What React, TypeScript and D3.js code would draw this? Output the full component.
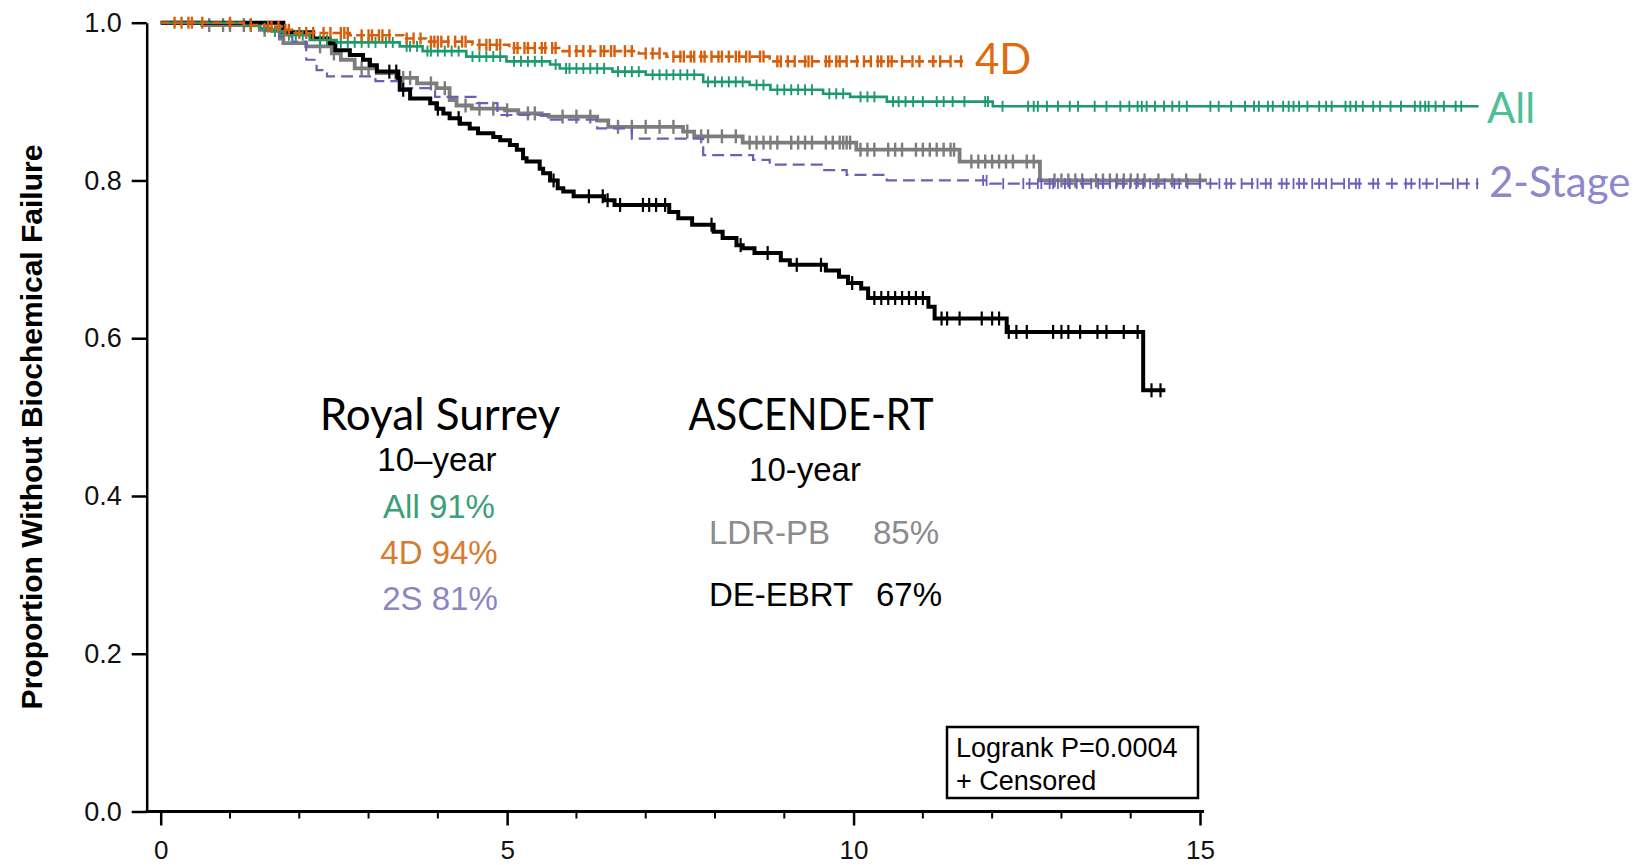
import * as d3 from "d3"
import { useEffect, useRef } from "react"

const WIDTH = 1642
const HEIGHT = 865

// Kaplan-Meier steps: [years, proportion without failure]
const deEbrtSteps: [number, number][] = [
  [0, 1.0], [1.77, 0.988], [2.2, 0.98], [2.44, 0.974], [2.52, 0.965], [2.73, 0.959],
  [2.92, 0.953], [3.02, 0.946], [3.12, 0.938], [3.43, 0.93], [3.45, 0.915], [3.6, 0.904],
  [3.89, 0.898], [3.98, 0.891], [4.08, 0.885], [4.17, 0.879], [4.32, 0.872], [4.46, 0.866],
  [4.58, 0.86], [4.8, 0.855], [4.9, 0.851], [5.04, 0.845], [5.14, 0.839], [5.23, 0.828],
  [5.28, 0.824], [5.47, 0.815], [5.52, 0.809], [5.62, 0.8], [5.73, 0.79], [5.81, 0.786],
  [5.96, 0.78], [6.4, 0.775], [6.55, 0.769], [7.34, 0.76], [7.47, 0.752], [7.67, 0.744],
  [7.98, 0.735], [8.11, 0.727], [8.31, 0.718], [8.4, 0.714], [8.57, 0.708], [8.95, 0.699],
  [9.08, 0.693], [9.6, 0.686], [9.79, 0.678], [9.92, 0.67], [10.11, 0.663], [10.21, 0.651],
  [11.08, 0.64], [11.17, 0.625], [12.21, 0.608], [14.18, 0.534],
]
const deEbrtEnd = 14.5
const deEbrtCensored = [
  3.3, 3.4, 3.5, 4.0, 4.3, 5.67, 6.18, 6.38, 6.45, 6.63, 6.96, 7.05, 7.15, 7.28, 7.95,
  8.37, 8.76, 9.18, 9.53, 9.98, 10.3, 10.4, 10.5, 10.6, 10.7, 10.8, 10.9, 11.0, 11.27,
  11.35, 11.53, 11.85, 12.0, 12.1, 12.24, 12.35, 12.5, 12.88, 13.0, 13.1, 13.27, 13.52,
  13.65, 13.9, 14.1, 14.3, 14.43,
]

const ldrSteps: [number, number][] = [
  [0, 1.0], [0.6, 0.997], [1.43, 0.991], [1.72, 0.98], [1.77, 0.974], [2.1, 0.97],
  [2.47, 0.961], [2.6, 0.953], [2.8, 0.942], [3.12, 0.936], [3.4, 0.93], [3.7, 0.923],
  [3.98, 0.917], [4.17, 0.902], [4.27, 0.895], [4.49, 0.891], [4.97, 0.889], [5.16, 0.885],
  [5.5, 0.883], [5.6, 0.881], [6.3, 0.876], [6.46, 0.868], [7.54, 0.862], [7.7, 0.856],
  [8.4, 0.848], [10.04, 0.839], [11.53, 0.824], [12.69, 0.8],
]
const ldrEnd = 15.1
const ldrCensored = [
  0.7, 0.9, 1.0, 1.2, 1.3, 1.5, 2.3, 2.5, 2.9, 3.0, 3.5, 3.6, 3.9, 4.1, 4.4, 4.6, 4.8,
  5.0, 5.3, 5.4, 5.8, 6.0, 6.2, 6.6, 6.8, 7.0, 7.2, 7.4, 7.6, 7.8, 7.9, 8.1, 8.3, 8.5,
  8.6, 8.7, 8.8, 8.9, 9.1, 9.2, 9.3, 9.4, 9.6, 9.7, 9.8, 9.85, 9.9, 9.95, 10.1, 10.2,
  10.3, 10.5, 10.6, 10.7, 10.9, 11.0, 11.1, 11.2, 11.3, 11.4, 11.45, 11.7, 11.8, 11.9,
  12.0, 12.1, 12.2, 12.3, 12.5, 12.6, 12.9, 13.0, 13.1, 13.2, 13.3, 13.5, 13.6, 13.7,
  13.8, 13.9, 14.0, 14.1, 14.2, 14.4, 14.6, 14.8, 15.0,
]

const allSteps: [number, number][] = [
  [0, 1.0], [1.2, 0.996], [1.43, 0.993], [1.6, 0.989], [1.77, 0.984], [2.15, 0.978],
  [2.54, 0.975], [3.45, 0.97], [3.78, 0.964], [4.41, 0.957], [4.99, 0.951], [5.62, 0.947],
  [5.76, 0.942], [6.52, 0.938], [7.0, 0.934], [7.83, 0.925], [8.5, 0.921], [8.8, 0.915],
  [9.56, 0.91], [9.95, 0.906], [10.48, 0.9], [12.01, 0.894],
]
const allEnd = 19.02
const allCensored = [
  1.5, 1.65, 1.85, 1.95, 2.05, 2.3, 2.4, 2.6, 2.7, 2.8, 2.9, 3.0, 3.1, 3.25, 3.35, 3.55,
  3.6, 3.7, 3.85, 3.9, 4.0, 4.1, 4.2, 4.3, 4.5, 4.6, 4.7, 4.8, 4.9, 5.1, 5.2, 5.3, 5.4,
  5.5, 5.7, 5.85, 5.9, 6.0, 6.1, 6.2, 6.3, 6.4, 6.6, 6.7, 6.8, 6.9, 7.1, 7.2, 7.3, 7.4,
  7.5, 7.6, 7.7, 7.9, 8.0, 8.1, 8.2, 8.3, 8.4, 8.6, 8.7, 8.9, 9.0, 9.1, 9.2, 9.3, 9.4,
  9.65, 9.75, 9.85, 10.1, 10.2, 10.3, 10.57, 10.65, 10.75, 10.86, 11.0, 11.2, 11.3,
  11.43, 11.6, 11.9, 11.94, 12.15, 12.52, 12.6, 12.66, 12.79, 12.95, 13.12, 13.24, 13.48,
  13.65, 13.85, 13.98, 14.1, 14.16, 14.23, 14.35, 14.48, 14.6, 14.7, 14.81, 15.15, 15.27,
  15.45, 15.65, 15.78, 15.85, 15.98, 16.05, 16.2, 16.28, 16.35, 16.43, 16.55, 16.72,
  16.82, 16.9, 17.1, 17.17, 17.25, 17.35, 17.5, 17.6, 17.75, 17.9, 18.1, 18.18, 18.25,
  18.3, 18.4, 18.52, 18.69, 18.77,
]

const twoStageSteps: [number, number][] = [
  [0, 1.0], [1.5, 0.99], [1.72, 0.982], [1.9, 0.976], [2.1, 0.953], [2.25, 0.94],
  [2.4, 0.932], [3.1, 0.926], [3.5, 0.917], [3.96, 0.906], [4.56, 0.898], [4.86, 0.883],
  [5.63, 0.877], [6.3, 0.866], [6.8, 0.853], [7.83, 0.832], [8.55, 0.826], [8.79, 0.82],
  [9.56, 0.813], [9.9, 0.807], [10.48, 0.8], [11.97, 0.796],
]
const twoStageEnd = 19.02
const twoStageCensored = [
  11.87, 11.92, 12.16, 12.45, 12.54, 12.66, 12.71, 12.83, 12.88, 12.95, 13.05, 13.12,
  13.22, 13.31, 13.43, 13.53, 13.6, 13.7, 13.79, 13.89, 13.99, 14.08, 14.18, 14.28,
  14.37, 14.49, 14.63, 14.7, 14.82, 15.0, 15.15, 15.28, 15.38, 15.45, 15.6, 15.75, 15.83,
  15.95, 16.02, 16.18, 16.25, 16.35, 16.43, 16.5, 16.62, 16.72, 16.82, 16.9, 17.08,
  17.15, 17.25, 17.3, 17.5, 17.57, 17.77, 17.97, 18.05, 18.17, 18.27, 18.42, 18.65,
  18.72, 18.85, 19.0,
]

const fourDSteps: [number, number][] = [
  [0, 1.0], [1.2, 0.997], [1.5, 0.995], [1.75, 0.991], [1.9, 0.987], [2.73, 0.984],
  [3.5, 0.98], [3.83, 0.976], [4.5, 0.972], [5.03, 0.968], [5.8, 0.964], [6.9, 0.961],
  [7.3, 0.957], [8.79, 0.951],
]
const fourDEnd = 11.58
const fourDCensored = [
  0.2, 0.3, 0.4, 0.45, 0.6, 1.0, 1.3, 1.55, 1.6, 1.7, 1.8, 1.85, 2.0, 2.1, 2.2, 2.35,
  2.45, 2.6, 2.65, 2.7, 2.9, 3.0, 3.05, 3.15, 3.2, 3.3, 3.55, 3.65, 3.75, 3.9, 3.95, 4.0,
  4.05, 4.15, 4.25, 4.35, 4.4, 4.6, 4.7, 4.75, 4.85, 4.9, 5.1, 5.15, 5.25, 5.3, 5.4, 5.5,
  5.55, 5.65, 5.7, 5.9, 6.0, 6.1, 6.2, 6.35, 6.4, 6.5, 6.55, 6.7, 6.8, 7.0, 7.1, 7.2,
  7.4, 7.5, 7.55, 7.65, 7.7, 7.8, 7.85, 7.95, 8.05, 8.1, 8.2, 8.3, 8.35, 8.45, 8.5, 8.65,
  8.7, 8.9, 8.95, 9.05, 9.15, 9.3, 9.35, 9.4, 9.6, 9.65, 9.75, 9.8, 9.9, 10.05, 10.15,
  10.25, 10.35, 10.4, 10.5, 10.55, 10.7, 10.85, 10.95, 11.15, 11.25, 11.4, 11.55,
]

const yTicks = [0, 0.2, 0.4, 0.6, 0.8, 1.0]
const xTicks = [0, 5, 10, 15]
const xMinorTicks = [1, 2, 3, 4, 6, 7, 8, 9, 11, 12, 13, 14]

const ARIAL = "'Liberation Sans', Arial, Helvetica, sans-serif"
const CALIBRI = "Lato, 'Open Sans', sans-serif"

type Series = {
  steps: [number, number][]
  end: number
  censored: number[]
  color: string
  width: number
  dash: string | null
  markH: number
  markW: number
}

const series: Series[] = [
  { steps: ldrSteps, end: ldrEnd, censored: ldrCensored, color: "#7d7d7d", width: 3.8, dash: null, markH: 14, markW: 2.4 },
  { steps: twoStageSteps, end: twoStageEnd, censored: twoStageCensored, color: "#6a60b8", width: 2.2, dash: "12,6", markH: 11, markW: 1.8 },
  { steps: deEbrtSteps, end: deEbrtEnd, censored: deEbrtCensored, color: "#000000", width: 4, dash: null, markH: 14, markW: 2.2 },
  { steps: allSteps, end: allEnd, censored: allCensored, color: "#1d9a6c", width: 2.6, dash: null, markH: 11, markW: 1.9 },
  { steps: fourDSteps, end: fourDEnd, censored: fourDCensored, color: "#d65f0c", width: 2.6, dash: "9,4", markH: 12, markW: 2.4 },
]

const App = () => {
  const svgRef = useRef<SVGSVGElement>(null)

  useEffect(() => {
    if (!svgRef.current) return
    const svg = d3.select(svgRef.current)
    svg.selectAll("*").remove()

    const x = d3.scaleLinear().domain([0, 15]).range([160.7, 1200])
    const y = d3.scaleLinear().domain([0, 1]).range([811.5, 22.7])

    // curves
    series.forEach((s) => {
      const pts: [number, number][] = [...s.steps, [s.end, s.steps[s.steps.length - 1][1]]]
      const line = d3
        .line<[number, number]>()
        .x((d) => x(d[0]))
        .y((d) => y(d[1]))
        .curve(d3.curveStepAfter)
      svg
        .append("path")
        .attr("d", line(pts))
        .attr("fill", "none")
        .attr("stroke", s.color)
        .attr("stroke-width", s.width)
        .attr("stroke-dasharray", s.dash)

      const bis = d3.bisector((d: [number, number]) => d[0]).right
      const valueAt = (t: number) => s.steps[Math.max(0, bis(s.steps, t) - 1)][1]
      svg
        .append("g")
        .selectAll("line")
        .data(s.censored)
        .join("line")
        .attr("x1", (d) => x(d))
        .attr("x2", (d) => x(d))
        .attr("y1", (d) => y(valueAt(d)) - s.markH / 2)
        .attr("y2", (d) => y(valueAt(d)) + s.markH / 2)
        .attr("stroke", s.color)
        .attr("stroke-width", s.markW)
    })

    // y axis
    const yAxis = svg
      .append("g")
      .attr("transform", "translate(146.7,0)")
      .call(
        d3
          .axisLeft(y)
          .tickValues(yTicks)
          .tickSize(15)
          .tickSizeOuter(0)
          .tickPadding(10)
          .tickFormat(d3.format(".1f")),
      )
    yAxis.select(".domain").attr("stroke-width", 2.5)
    yAxis.selectAll(".tick line").attr("stroke-width", 2.5)
    yAxis.selectAll("text").attr("font-size", 27).attr("font-family", ARIAL).attr("fill", "#111")

    // x axis
    const xAxis = svg
      .append("g")
      .attr("transform", "translate(0,811.5)")
      .call(d3.axisBottom(x).tickValues(xTicks).tickSize(14).tickPadding(15).tickFormat(d3.format("d")))
    xAxis.select(".domain").remove()
    xAxis.selectAll(".tick line").attr("stroke-width", 2.5)
    xAxis.selectAll("text").attr("font-size", 26).attr("font-family", ARIAL).attr("fill", "#111")
    xAxis
      .append("line")
      .attr("x1", 145.5)
      .attr("x2", 1204)
      .attr("stroke", "#000")
      .attr("stroke-width", 3)
    xAxis
      .selectAll(".minor")
      .data(xMinorTicks)
      .join("line")
      .attr("class", "minor")
      .attr("x1", (d) => x(d))
      .attr("x2", (d) => x(d))
      .attr("y1", 0)
      .attr("y2", 7)
      .attr("stroke", "#000")
      .attr("stroke-width", 2)

    // y axis title
    svg
      .append("text")
      .attr("transform", "translate(42,427) rotate(-90)")
      .attr("text-anchor", "middle")
      .attr("font-family", ARIAL)
      .attr("font-weight", "bold")
      .attr("font-size", 30)
      .text("Proportion Without Biochemical Failure")

    // curve labels
    const curveLabels = [
      { text: "4D", x: 975, y: 74, color: "#e06a10" },
      { text: "All", x: 1487, y: 123, color: "#4fbf97" },
      { text: "2-Stage", x: 1489, y: 197, color: "#8e88ca" },
    ]
    svg
      .append("g")
      .selectAll("text")
      .data(curveLabels)
      .join("text")
      .attr("x", (d) => d.x)
      .attr("y", (d) => d.y)
      .attr("fill", (d) => d.color)
      .attr("font-family", CALIBRI)
      .attr("font-size", 42)
      .text((d) => d.text)

    // annotations
    const notes = [
      { text: "Royal Surrey", x: 440, y: 430, size: 44, font: CALIBRI, color: "#000", anchor: "middle", len: null },
      { text: "10\u2013year", x: 437, y: 471, size: 33, font: ARIAL, color: "#000", anchor: "middle", len: null },
      { text: "All 91%", x: 439, y: 518, size: 33, font: ARIAL, color: "#3b9f78", anchor: "middle", len: null },
      { text: "4D 94%", x: 439, y: 564, size: 33, font: ARIAL, color: "#d97a32", anchor: "middle", len: null },
      { text: "2S 81%", x: 440, y: 610, size: 33, font: ARIAL, color: "#8a86c4", anchor: "middle", len: null },
      { text: "ASCENDE-RT", x: 811, y: 430, size: 44, font: CALIBRI, color: "#000", anchor: "middle", len: 245 },
      { text: "10-year", x: 805, y: 481, size: 33, font: ARIAL, color: "#000", anchor: "middle", len: null },
      { text: "LDR-PB", x: 709, y: 544, size: 33, font: ARIAL, color: "#8c8c8c", anchor: "start", len: null },
      { text: "85%", x: 873, y: 544, size: 33, font: ARIAL, color: "#8c8c8c", anchor: "start", len: null },
      { text: "DE-EBRT", x: 709, y: 606, size: 33, font: ARIAL, color: "#000", anchor: "start", len: null },
      { text: "67%", x: 876, y: 606, size: 33, font: ARIAL, color: "#000", anchor: "start", len: null },
    ]
    svg
      .append("g")
      .selectAll("text")
      .data(notes)
      .join("text")
      .attr("x", (d) => d.x)
      .attr("y", (d) => d.y)
      .attr("fill", (d) => d.color)
      .attr("font-family", (d) => d.font)
      .attr("font-size", (d) => d.size)
      .attr("text-anchor", (d) => d.anchor)
      .attr("textLength", (d) => d.len)
      .attr("lengthAdjust", (d) => (d.len ? "spacingAndGlyphs" : null))
      .text((d) => d.text)

    // legend box
    const legend = svg.append("g")
    legend
      .append("rect")
      .attr("x", 947)
      .attr("y", 727)
      .attr("width", 251)
      .attr("height", 71)
      .attr("fill", "#fff")
      .attr("stroke", "#000")
      .attr("stroke-width", 2.5)
    legend
      .selectAll("text")
      .data(["Logrank P=0.0004", "+ Censored"])
      .join("text")
      .attr("x", 956)
      .attr("y", (_, i) => 757 + i * 33)
      .attr("font-family", ARIAL)
      .attr("font-size", 27)
      .text((d) => d)
  }, [])

  return (
    <svg
      ref={svgRef}
      width={WIDTH}
      height={HEIGHT}
      style={{ position: "absolute", left: 0, top: 0, background: "#fff", display: "block" }}
    />
  )
}

export default App
